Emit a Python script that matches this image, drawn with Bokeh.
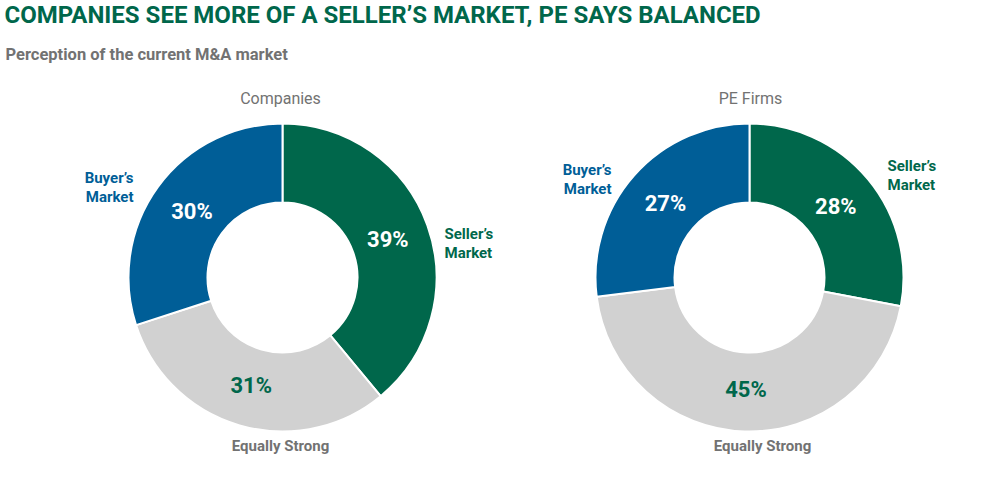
import math

from bokeh.core.properties import value
from bokeh.embed import file_html
from bokeh.models import ColumnDataSource, Range1d
from bokeh.plotting import figure
from bokeh.resources import INLINE

# data
groups = ["Companies", "PE Firms"]
categories = ["Seller's Market", "Equally Strong", "Buyer's Market"]
companies = [39, 31, 30]
pe_firms = [28, 45, 27]
series = [companies, pe_firms]

colors = ["#00674b", "#d1d1d1", "#005e97"]
pct_colors = ["white", "#00674b", "white"]

W, H = 984, 467
FONT = "Roboto"


def Y(py):
    # picture row -> data y (y grows upwards)
    return H - py


def X(px):
    return px


p = figure(width=W, height=H, output_backend="svg", toolbar_location=None,
           x_range=Range1d(0, W), y_range=Range1d(0, H),
           x_axis_type=None, y_axis_type=None, min_border=0)
p.outline_line_color = None
p.grid.visible = False
p.background_fill_color = "white"

centers = [(X(282), Y(277)), (X(749), Y(277))]
r_out, r_in = 154, 75

for (cx, cy), vals, name in zip(centers, series, groups):
    total = sum(vals)
    cum = [0]
    for v in vals:
        cum.append(cum[-1] + v / total)
    starts = [math.pi / 2 - 2 * math.pi * b for b in cum[1:]]
    ends = [math.pi / 2 - 2 * math.pi * a for a in cum[:-1]]
    mids = [math.pi / 2 - math.pi * (a + b) for a, b in zip(cum[:-1], cum[1:])]
    src = ColumnDataSource(dict(
        x=[cx] * len(vals), y=[cy] * len(vals), start=starts, end=ends,
        color=colors,
        lx=[cx + 112 * math.cos(m) for m in mids],
        ly=[cy + 112 * math.sin(m) for m in mids],
        label=[f"{v}%" for v in vals], tc=pct_colors,
    ))
    p.annular_wedge(x="x", y="y", inner_radius=r_in, outer_radius=r_out,
                    start_angle="start", end_angle="end", fill_color="color",
                    line_color="white", line_width=2, source=src)
    p.text(x="lx", y="ly", text="label", text_color="tc", source=src,
           text_font=value(FONT), text_font_style="bold", text_font_size="22px",
           text_align="center", text_baseline="middle")

# titles
p.text(x=[X(4)], y=[Y(14)], text=["COMPANIES SEE MORE OF A SELLER\u2019S MARKET, PE SAYS BALANCED"],
       text_font=value(FONT), text_font_style="bold", text_font_size="24px",
       text_color="#00674b", text_align="left", text_baseline="middle")
p.text(x=[X(5)], y=[Y(54)], text=["Perception of the current M&A market"],
       text_font=value(FONT), text_font_style="bold", text_font_size="16.5px",
       text_color="#727272", text_align="left", text_baseline="middle")
p.text(x=[X(280), X(750)], y=[Y(98), Y(98)], text=groups,
       text_font=value(FONT), text_font_size="16px",
       text_color="#727272", text_align="center", text_baseline="middle")

# category labels
p.text(x=[X(133), X(611)], y=[Y(187), Y(179)], text=["Buyer\u2019s\nMarket"] * 2,
       text_font=value(FONT), text_font_style="bold", text_font_size="15px",
       text_color="#005e97", text_align="right", text_baseline="middle",
       text_line_height=1.05)
p.text(x=[X(444), X(887)], y=[Y(243), Y(175)], text=["Seller\u2019s\nMarket"] * 2,
       text_font=value(FONT), text_font_style="bold", text_font_size="15px",
       text_color="#00674b", text_align="left", text_baseline="middle",
       text_line_height=1.05)
p.text(x=[X(280), X(762)], y=[Y(445), Y(445)], text=["Equally Strong"] * 2,
       text_font=value(FONT), text_font_style="bold", text_font_size="15px",
       text_color="#727272", text_align="center", text_baseline="middle")

open("out.html", "w").write(file_html(p, INLINE))
